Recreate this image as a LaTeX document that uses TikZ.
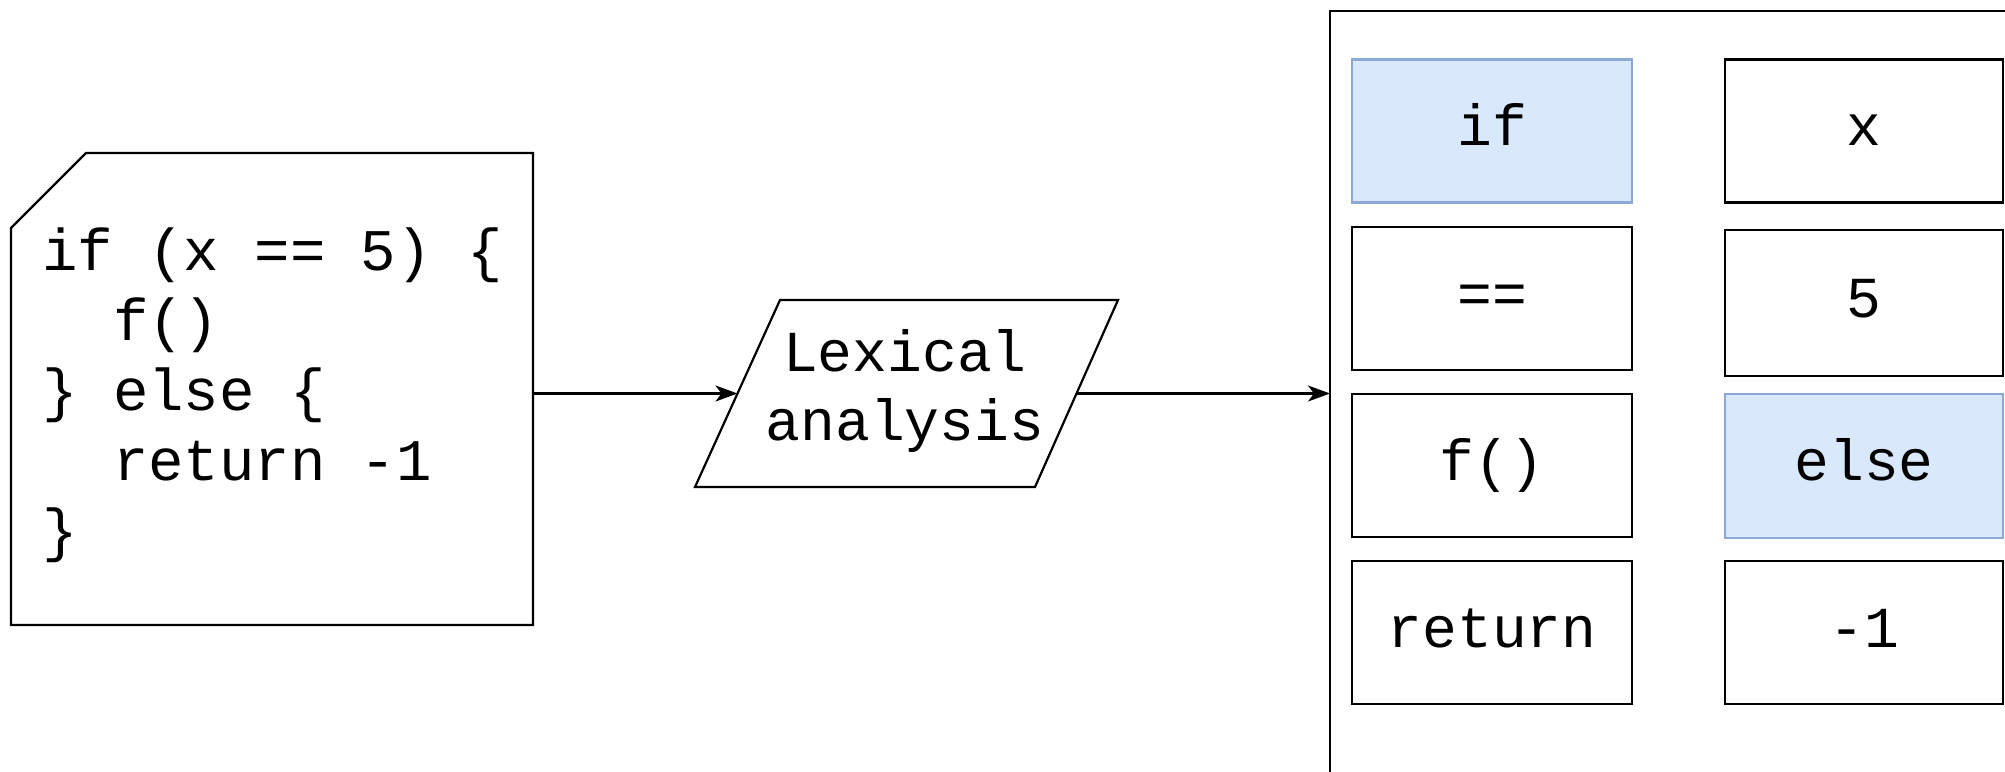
\documentclass[tikz,border=0pt]{standalone}
\usepackage{fontspec}
\newfontfamily\codefont{Liberation Mono}
\usetikzlibrary{arrows.meta}
\definecolor{tokfill}{HTML}{DAE8FC}
\definecolor{tokline}{HTML}{8BA8D6}
\newcommand{\codesize}{\codefont\fontsize{58pt}{69.6pt}\selectfont}
\newcommand{\listingsize}{\codefont\fontsize{59pt}{70pt}\selectfont}
\begin{document}
\begin{tikzpicture}[x=1pt,y=-1pt,
  outline/.style={draw=black, line width=2.2pt, line join=miter},
  flow/.style={draw=black, line width=2.2pt, -{Stealth[length=22pt,width=16pt,inset=6pt]}},
  codetext/.style={font=\codesize, inner sep=0pt, align=left},
  token/.style={draw=black, line width=2.2pt, fill=white, minimum width=280pt,
    minimum height=143pt, inner sep=0pt, text height=41pt, text depth=12pt, font=\codesize},
  keyword/.style={token, fill=tokfill, draw=tokline}
]
\fill[white] (0,0) rectangle (2005,771);
\useasboundingbox (0,0) rectangle (2005,771);
\clip (0,0) rectangle (2005,771);

% source card with clipped corner
\draw[outline] (86,153) -- (533,153) -- (533,625) -- (11,625) -- (11,228) -- cycle;
% anchored on the baseline of the last line
\node[codetext, font=\listingsize, anchor=base west] (code) at (42,550)
  {if (x == 5) \{\\\hphantom{ff}f()\\\} else \{\\\hphantom{ff}return -1\\\}};

% lexer step (parallelogram)
\draw[outline] (780,300) -- (1118,300) -- (1035,487) -- (695,487) -- cycle;
\node[codetext, align=center] (lexical) at (905,391) {Lexical\\analysis};

% token list container
\draw[outline] (1330,11) rectangle (2100,900);

\node[keyword] (tif) at (1492,131) {if};
\node[token] (teq) at (1492,298.5) {==};
\node[token] (tcall) at (1492,465.5) {f()};
\node[token] (tret) at (1492,632.5) {return};
\node[token, minimum width=278pt] (tx) at (1864,131) {x};
\node[token, minimum width=278pt, minimum height=146pt] (tfive) at (1864,303) {5};
\node[keyword, minimum width=278pt, minimum height=144pt] (telse) at (1864,466) {else};
\node[token, minimum width=278pt] (tneg) at (1864,632.5) {-1};

% connector end points
\coordinate (codeout) at (533,393.5);
\coordinate (lexin) at (737.5,393.5);
\coordinate (lexout) at (1076.5,393.5);
\coordinate (tokin) at (1330,393.5);

\draw[flow] (codeout) -- (lexin);
\draw[flow] (lexout) -- (tokin);
\end{tikzpicture}
\end{document}
